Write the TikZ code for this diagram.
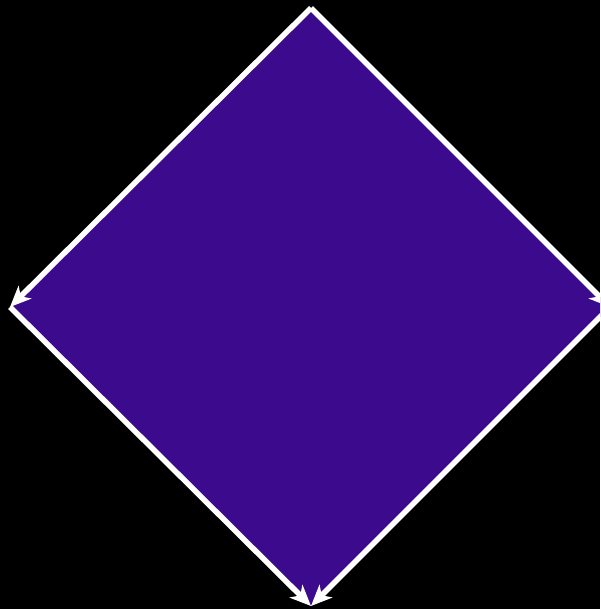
\documentclass[tikz,border=0pt]{standalone}
\usetikzlibrary{arrows.meta}
\definecolor{diafill}{RGB}{60,10,140}
\tikzset{edge/.style={draw=white, line width=5.5pt, -{Stealth[length=21pt,width=18pt,inset=6pt]}}}
\begin{document}
\begin{tikzpicture}[x=1pt,y=-1pt]
\fill[black] (0,0) rectangle (600,609);
\useasboundingbox (0,0) rectangle (600,609);
\coordinate (T) at (311,8);
\coordinate (L) at (10,307);
\coordinate (B) at (311,606);
\coordinate (R) at (610,307);
\begin{scope}
\clip (0,0) rectangle (600,609);
\fill[diafill] (T) -- (R) -- (B) -- (L) -- cycle;
\draw[edge] (T) -- (L);
\draw[edge] (T) -- (R);
\draw[edge] (L) -- (B);
\draw[edge] (R) -- (B);
\end{scope}
\end{tikzpicture}
\end{document}
